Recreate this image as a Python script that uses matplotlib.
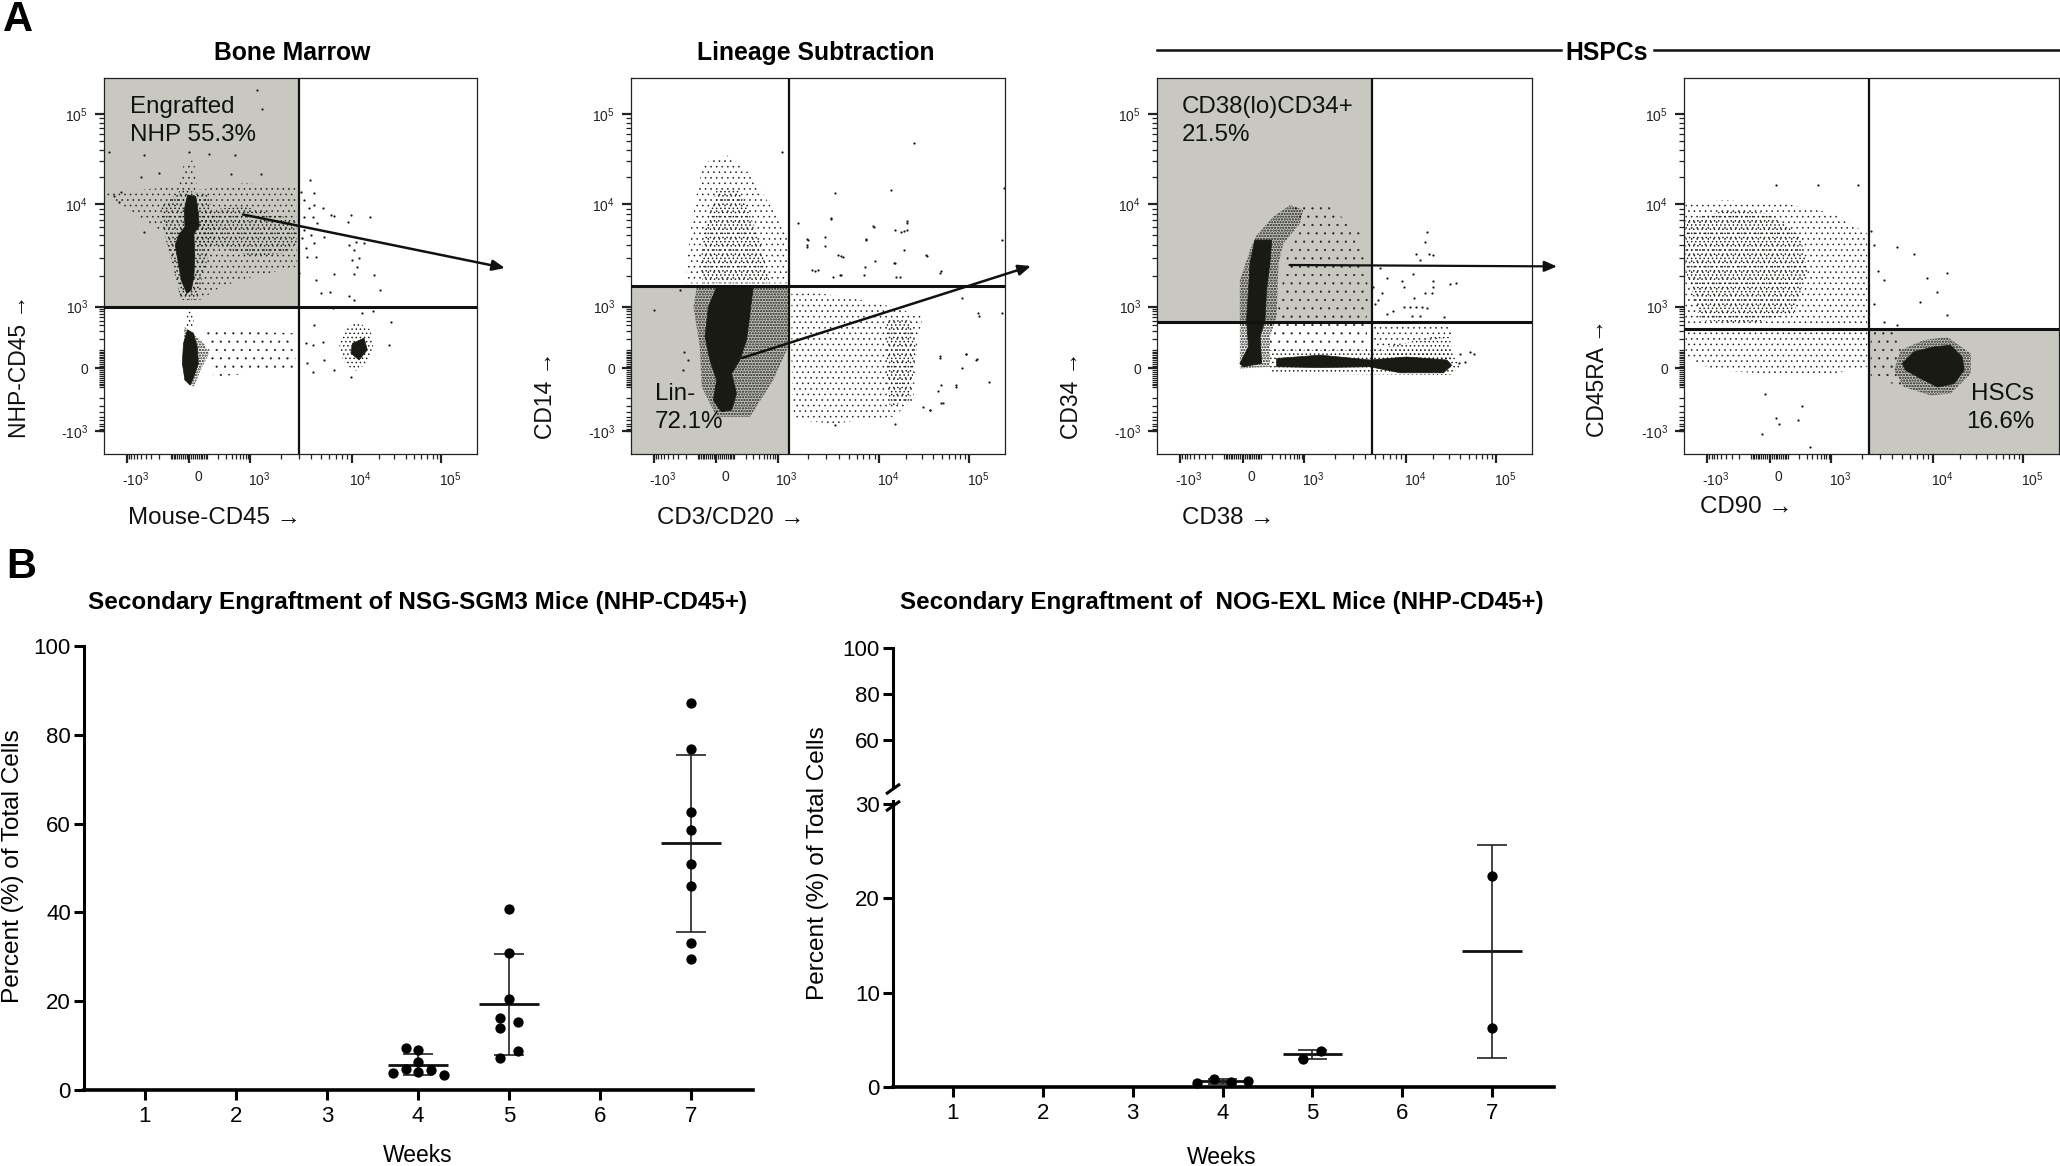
import numpy as np
import matplotlib
matplotlib.use("Agg")
import matplotlib.pyplot as plt
from matplotlib.patches import Polygon
from matplotlib.transforms import ScaledTranslation

plt.rcParams['font.family'] = ['Liberation Sans', 'DejaVu Sans']
plt.rcParams['mathtext.fontset'] = 'custom'
plt.rcParams['mathtext.rm'] = 'Liberation Sans'
plt.rcParams['mathtext.default'] = 'regular'

W, H = 2060, 1166
INK = '#1a1a14'
GATE = '#c8c8c1'

# ---------- Panel A: flow cytometry (coordinates in acquisition channels, 0-1000) ----------
tick_values = [-1000, 0, 1000, 10000, 100000]
tick_labels = ['-$10^{3}$', '0', '$10^{3}$', '$10^{4}$', '$10^{5}$']
knot_asinh = [-3.0, 0.0, 3.0, 5.3, 7.6]
knot_chan = [61, 228, 392, 664, 904]

xlabels_flow = ['Mouse-CD45 →', 'CD3/CD20 →', 'CD38 →', 'CD90 →']
ylabels_flow = ['NHP-CD45 →', 'CD14 →', 'CD34 →', 'CD45RA →']
gate_names = ['Engrafted\nNHP 55.3%', 'Lin-\n72.1%', 'CD38(lo)CD34+\n21.5%', 'HSCs\n16.6%']
gate_x = [523, 422, 573, 493]
gate_y = [392, 447, 351, 332]

# sparse single events
strays_1 = [(552,729),(563,693),(527,698),(536,676),(550,654),(563,662),(586,654),(559,631),(536,631),(572,614),
            (608,636),(617,633),(662,636),(653,618),(713,630),(536,596),(554,583),(590,576),(532,574),(541,547),
            (563,560),(657,556),(675,565),(697,560),(671,543),(545,525),(568,525),(666,516),(684,521),(679,498),
            (617,479),(671,479),(724,476),(523,482),(568,463),(583,427),(606,432),(657,420),(669,410),(740,436),
            (614,387),(671,392),(693,374),(720,379),(751,390),(769,352),(563,343),(764,290),(541,294),(559,290),
            (586,299),(545,241),(559,219),(590,250),(617,223),(662,206),(13,802),(107,795),(148,747),(228,802),
            (282,798),(350,795),(422,745),(340,745),(100,738),(45,698),(107,591),(27,685),(40,671),(409,969),(423,918)]
strays_2 = [(545,693),(694,702),(536,628),(738,615),(650,605),(729,592),(629,569),(474,569),(471,550),
            (562,527),(791,527),(703,509),(404,803),(756,826),(492,486),(562,477),(624,477),(720,472),
            (826,481),(998,707),(993,569),(993,375),(931,366),(826,256),(896,265),(922,251),(958,191),
            (870,178),(835,136),(799,118),(61,383),(470,572),(471,557),(519,576),(519,553),(447,615),
            (534,626),(648,607),(628,573),(706,596),(721,591),(737,597),(737,619),(730,542),(789,529),
            (652,514),(706,509),(626,498),(554,529),(568,525),(830,487),(483,489),(501,489),(541,471),
            (559,477),(708,471),(884,414),(928,374),(826,260),(897,267),(924,252),(884,229),(870,183),
            (830,183),(822,167),(830,136),(799,117),(781,125),(545,77),(706,81),(153,250),(138,223),(142,272),(131,436)]
strays_3 = [(719,591),(715,564),(691,533),(726,533),(737,529),(701,517),(595,494),(613,467),(653,461),(682,478),
            (737,461),(781,452),(797,455),(737,443),(659,443),(577,445),(599,427),(715,427),(733,429),(590,409),
            (684,414),(581,399),(659,392),(675,390),(691,392),(706,390),(719,389),(630,381),(613,372),(679,367),
            (701,367),(765,365),(808,267),(835,272),(844,266),(821,245),(804,241)]
strays_4 = [(507,555),(568,550),(612,532),(516,486),(533,463),(647,467),(700,481),(507,398),(674,431),
            (630,403),(700,371),(498,592),(533,352),(568,343),(217,159),(314,127),(244,95),(252,81),
            (305,90),(209,53),(337,19),(244,716),(358,716),(463,716)]
strays = [strays_1, strays_2, strays_3, strays_4]

# population outlines, one list per event density
faint_1 = [[(268,330),(510,321),(514,223),(295,206)]]
sparse_1 = [[(0,693),(89,702),(197,711),(215,773),(241,782),(250,702),(375,720),(514,711),(518,498),(402,472),
             (313,445),(259,410),(206,410),(183,507),(161,587),(63,649)]]
medium_1 = [[(268,649),(375,658),(518,622),(518,560),(483,534),(402,525),(286,556),(246,552),(250,605)],
            [(152,658),(206,702),(277,693),(304,596),(268,489),(250,410),(206,410),(183,507),(161,587)],
            [(224,396),(237,396),(241,339),(219,339)],
            [(679,352),(715,330),(722,285),(706,241),(671,219),(639,250),(630,294),(648,334)]]
heavy_1 = [[(215,339),(268,294),(282,268),(259,223),(241,179),(215,197)]]
dense_1 = [[(224,689),(246,685),(253,640),(255,605),(241,587),(243,525),(241,472),(234,436),(222,427),(207,463),
            (198,516),(191,556),(201,583),(217,605),(215,649)],
           [(224,330),(240,321),(250,285),(253,241),(241,206),(231,183),(217,197),(210,241),(213,294)],
           [(666,294),(697,308),(706,277),(684,250),(662,268)]]

faint_2 = []
sparse_2 = [[(149,454),(420,454),(420,569),(380,649),(318,746),(256,795),(193,773),(176,693),(158,587),(149,498)],
            [(429,436),(576,418),(701,391),(781,365),(764,285),(755,143),(701,99),(541,81),(434,90),(429,258)]]
medium_2 = [[(193,454),(372,454),(345,569),(291,702),(229,702),(198,604),(184,498)],
            [(683,356),(746,356),(764,285),(746,143),(692,125),(683,214)]]
heavy_2 = [[(176,445),(420,445),(420,285),(380,196),(318,99),(229,99),(189,179),(184,285),(167,391)]]
dense_2 = [[(247,445),(327,445),(318,374),(309,303),(291,250),(269,214),(282,161),(269,117),(242,112),(220,143),
            (229,196),(211,250),(198,312),(207,391),(229,445)]]

faint_3 = [[(355,662),(461,658),(541,587),(564,436),(559,360),(319,360),(346,525),(381,613)],
           [(301,347),(559,347),(559,258),(301,258)]]
sparse_3 = [[(577,352),(781,352),(790,312),(612,285),(577,258)]]
medium_3 = [[(612,285),(737,312),(781,312),(790,250),(612,250)],
            [(301,276),(781,276),(808,232),(781,210),(301,214)]]
heavy_3 = [[(266,582),(310,631),(355,662),(390,649),(381,613),(337,560),(324,507),(319,365),(301,312),(301,232),
            (221,227),(221,347),(221,462),(248,542)]]
dense_3 = [[(261,569),(306,569),(301,507),(292,436),(288,356),(275,312),(279,241),(230,232),(221,241),(244,285),
            (239,356),(244,436),(248,507)],
           [(319,254),(435,263),(568,250),(666,258),(773,250),(786,236),(764,216),(648,216),(568,232),(435,230),(319,232)]]

faint_4 = [[(498,329),(569,329),(578,276),(560,223),(587,178),(525,196),(498,205)]]
sparse_4 = [[(4,666),(107,675),(267,666),(400,640),(489,586),(489,338),(4,338)],
            [(4,329),(489,329),(489,232),(356,205),(80,223),(4,258)]]
medium_4 = [[(4,622),(116,649),(231,640),(311,578),(329,489),(293,374),(178,347),(44,356),(4,489)]]
heavy_4 = [[(578,276),(640,303),(702,311),(765,267),(765,214),(711,161),(658,156),(587,178),(560,223)]]
dense_4 = [[(613,272),(667,285),(711,289),(742,258),(747,223),(720,187),(676,178),(631,201),(591,223),(582,241)]]

density_layers = [('..', 0.3, [faint_1, faint_2, faint_3, faint_4]),
                  ('...', 0.4, [sparse_1, sparse_2, sparse_3, sparse_4]),
                  ('....', 0.55, [medium_1, medium_2, medium_3, medium_4]),
                  ('......', 1.1, [heavy_1, heavy_2, heavy_3, heavy_4])]
dense_sets = [dense_1, dense_2, dense_3, dense_4]

flow_boxes = [(104, 78, 477, 454), (631, 78, 1005, 454), (1157, 78, 1532, 454), (1684, 78, 2059, 454)]
label_xy = [(130, 121), (655, 408), (1182, 121), (2034, 408)]
xl_xy = [(128, 518), (657, 518), (1182, 518), (1700, 507)]
yl_xy = [(20, 366), (545, 395), (1071, 395), (1598, 378)]
name_ha = ['left', 'left', 'left', 'right']

fig = plt.figure(figsize=(W / 100, H / 100), dpi=100, facecolor='white')


def axes_px(x0, y0, x1, y1):
    return fig.add_axes([x0 / W, 1 - y1 / H, (x1 - x0) / W, (y1 - y0) / H])


def chan(v):
    return np.interp(np.arcsinh(np.asarray(v, dtype=float) / 100), knot_asinh, knot_chan)


minor_values = sorted({s * m * d for s in (1, -1) for d in (10, 100) for m in range(1, 10)} |
                      {m * d for d in (1000, 10000, 100000) for m in range(2, 10) if m * d < 250000} |
                      {-2000})

for i, box in enumerate(flow_boxes):
    ax = axes_px(*box)
    ax.set_xlim(0, 1000)
    ax.set_ylim(0, 1000)
    gx, gy = gate_x[i], gate_y[i]
    if i == 0 or i == 2:
        ax.axvspan(0, gx, ymin=gy / 1000, ymax=1, color=GATE, lw=0, zorder=0)
    elif i == 1:
        ax.axvspan(0, gx, ymin=0, ymax=gy / 1000, color=GATE, lw=0, zorder=0)
    else:
        ax.axvspan(gx, 1000, ymin=0, ymax=gy / 1000, color=GATE, lw=0, zorder=0)
    for hatch, hlw, sets in density_layers:
        plt.rcParams['hatch.linewidth'] = hlw
        for p in sets[i]:
            ax.add_patch(Polygon(p, closed=True, fill=False, hatch=hatch, edgecolor=INK, lw=0, zorder=1))
    for p in dense_sets[i]:
        ax.add_patch(Polygon(p, closed=True, facecolor=INK, edgecolor=INK, lw=0.5, zorder=2))
    sx, sy = zip(*strays[i])
    ax.scatter(sx, sy, s=2.6, color=INK, lw=0, zorder=2)
    ax.axvline(gx, color='#111111', lw=1.6, zorder=3)
    ax.axhline(gy, color='#111111', lw=2.2, zorder=3)
    for axis in (ax.xaxis, ax.yaxis):
        axis.set_ticks(chan(tick_values))
        axis.set_ticklabels(tick_labels)
        axis.set_ticks(chan(minor_values), minor=True)
    ax.tick_params(axis='both', which='major', length=6.5, width=1.6, labelsize=10, colors='#222222')
    ax.tick_params(axis='x', which='major', pad=5)
    ax.tick_params(axis='y', which='major', pad=5)
    ax.tick_params(axis='both', which='minor', length=3.5, width=0.9, colors='#222222')
    shift = ScaledTranslation(9 / 100, 0, fig.dpi_scale_trans)
    for lab in ax.get_xticklabels():
        lab.set_transform(lab.get_transform() + shift)
    for sp in ax.spines.values():
        sp.set_linewidth(0.9)
        sp.set_color('#222222')

# overlay in pixel coordinates for annotation text and gating arrows
ov = fig.add_axes([0, 0, 1, 1], facecolor='none', zorder=10)
ov.set_xlim(0, W)
ov.set_ylim(H, 0)
ov.axis('off')

for i in range(4):
    ov.text(*label_xy[i], gate_names[i], fontsize=17.4, ha=name_ha[i], va='center', linespacing=1.3, color='#111111')
    ov.text(*xl_xy[i], xlabels_flow[i], fontsize=17.4, ha='left', va='center', color='#111111')
    ov.text(*yl_xy[i], ylabels_flow[i], fontsize=16.5, rotation=90, ha='center', va='center', color='#111111')
ov.text(292, 53, 'Bone Marrow', fontsize=17.8, weight='bold', ha='center', va='center')
ov.text(816, 53, 'Lineage Subtraction', fontsize=17.8, weight='bold', ha='center', va='center')
ov.text(1607, 53, 'HSPCs', fontsize=17.8, weight='bold', ha='center', va='center')
ov.plot([1157, 1561], [49.5, 49.5], color='#111111', lw=1.8)
ov.plot([1654, 2059], [49.5, 49.5], color='#111111', lw=1.8)
ov.text(3, 20, 'A', fontsize=30, weight='bold', ha='left', va='center')
ov.text(6, 567, 'B', fontsize=30, weight='bold', ha='left', va='center')
for (x0, y0, x1, y1, lw) in [(243, 214.5, 505, 268, 1.8), (742, 358, 1031, 266, 1.8), (1289.5, 265, 1557, 266.4, 1.6)]:
    ov.annotate('', xy=(x1, y1), xytext=(x0, y0),
                arrowprops=dict(arrowstyle='-|>,head_length=0.75,head_width=0.32', color='#111111', lw=lw,
                                shrinkA=0, shrinkB=0))

# ---------- Panel B: secondary engraftment ----------
weeks = [1, 2, 3, 4, 5, 6, 7]
sgm3_x4 = [3.865, 4.0, 4.0, 3.865, 4.14, 4.0, 3.72, 4.285]
sgm3_y4 = [9.5, 9.0, 6.3, 4.7, 4.5, 4.1, 3.8, 3.3]
sgm3_x5 = [5.0, 5.0, 5.0, 4.9, 5.1, 4.9, 5.1, 4.9]
sgm3_y5 = [40.8, 30.9, 20.5, 16.3, 15.3, 13.9, 8.7, 7.2]
sgm3_x7 = [7.0] * 8
sgm3_y7 = [87.1, 76.7, 62.7, 58.5, 50.8, 46.0, 33.0, 29.4]
sgm3_week = [4, 5, 7]
sgm3_mean = [5.7, 19.3, 55.6]
sgm3_low = [3.3, 7.9, 35.6]
sgm3_high = [8.1, 30.7, 75.5]

exl_x4 = [3.72, 3.905, 4.095, 4.28]
exl_y4 = [0.43, 0.9, 0.55, 0.6]
exl_x5 = [4.9, 5.1]
exl_y5 = [3.0, 3.8]
exl_x7 = [7.0, 7.0]
exl_y7 = [22.4, 6.3]
exl_week = [4, 5, 7]
exl_mean = [0.65, 3.45, 14.4]
exl_low = [0.35, 2.97, 3.1]
exl_high = [0.83, 3.95, 25.7]


def style_bottom(ax):
    for s in ('top', 'right'):
        ax.spines[s].set_visible(False)
    ax.spines['left'].set_linewidth(2.2)
    ax.spines['bottom'].set_linewidth(2.6)
    ax.tick_params(axis='both', length=7.5, width=2.2, labelsize=16)
    ax.tick_params(axis='x', pad=4)
    ax.tick_params(axis='y', pad=2)


def draw_summary(ax, week, mean, low, high):
    # half widths are in week units
    ax.hlines(mean, np.array(week) - 0.33, np.array(week) + 0.33, color='#111111', lw=2.0, zorder=3)
    ax.vlines(week, low, high, color='#222222', lw=1.2, zorder=3)
    ax.hlines(low, np.array(week) - 0.165, np.array(week) + 0.165, color='#222222', lw=1.2, zorder=3)
    ax.hlines(high, np.array(week) - 0.165, np.array(week) + 0.165, color='#222222', lw=1.2, zorder=3)


a = axes_px(84, 646, 753, 1090)
a.set_xlim(1 - 61 / 91, 7 + 62 / 91)
a.set_ylim(0, 100)
a.set_xticks(weeks)
a.set_yticks([0, 20, 40, 60, 80, 100])
style_bottom(a)
for xs, ys in ((sgm3_x4, sgm3_y4), (sgm3_x5, sgm3_y5), (sgm3_x7, sgm3_y7)):
    a.scatter(xs, ys, s=55, color='black', lw=0, zorder=4)
draw_summary(a, sgm3_week, sgm3_mean, sgm3_low, sgm3_high)

lo = axes_px(893, 801, 1554, 1087)
lo.set_xlim(1 - 60 / 89.9, 7 + 62 / 89.9)
lo.set_ylim(0, 286 / 9.43)
lo.set_xticks(weeks)
lo.set_yticks([0, 10, 20, 30])
style_bottom(lo)
for xs, ys in ((exl_x4, exl_y4), (exl_x5, exl_y5), (exl_x7, exl_y7)):
    lo.scatter(xs, ys, s=55, color='black', lw=0, zorder=4, clip_on=False)
draw_summary(lo, exl_week, exl_mean, exl_low, exl_high)

up = axes_px(893, 647.5, 1554, 786)
up.set_xlim(lo.get_xlim())
up.set_ylim(100 - 138.5 / 2.31, 100)
up.set_yticks([60, 80, 100])
up.set_xticks([])
style_bottom(up)
up.spines['bottom'].set_visible(False)
up.patch.set_alpha(0)

for y in (789, 806):
    ov.plot([886, 900], [y + 5, y - 5], color='black', lw=2.2, solid_capstyle='butt')

ov.text(418, 603, 'Secondary Engraftment of NSG-SGM3 Mice (NHP-CD45+)', fontsize=17.5, weight='bold', ha='center', va='center')
ov.text(1222, 603, 'Secondary Engraftment of  NOG-EXL Mice (NHP-CD45+)', fontsize=17.35, weight='bold', ha='center', va='center')
ov.text(13, 866, 'Percent (%) of Total Cells', fontsize=17.6, rotation=90, ha='center', va='center')
ov.text(818, 863, 'Percent (%) of Total Cells', fontsize=17.6, rotation=90, ha='center', va='center')
ov.text(418, 1156, 'Weeks', fontsize=16.5, ha='center', va='center')
ov.text(1222, 1157, 'Weeks', fontsize=16.5, ha='center', va='center')

fig.savefig('out.png', dpi=100, facecolor='white')
